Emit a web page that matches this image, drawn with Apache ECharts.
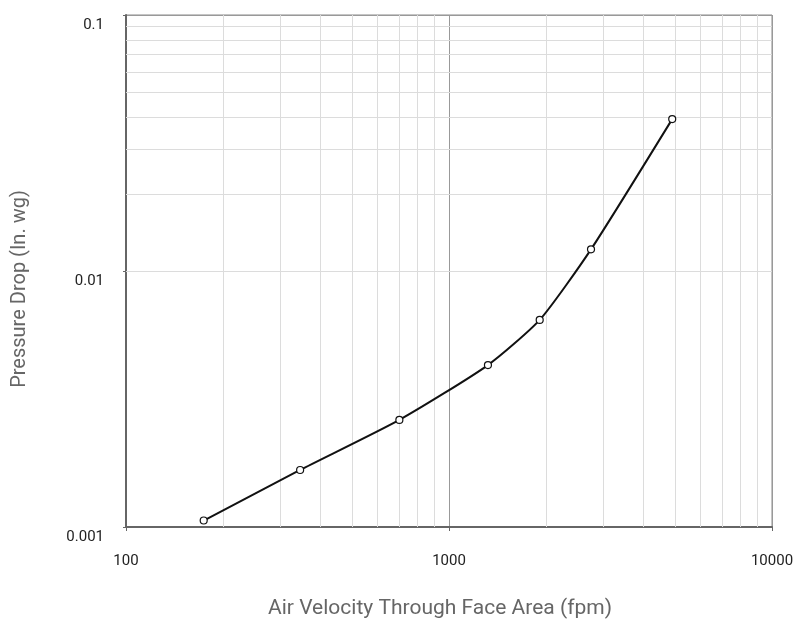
<!DOCTYPE html>
<html>
<head>
<meta charset="utf-8">
<script src="https://cdn.jsdelivr.net/npm/echarts@6/dist/echarts.min.js"></script>
<style>
  html, body { margin: 0; padding: 0; background: #fff; }
  #chart { width: 803px; height: 620px; }
</style>
</head>
<body>
<div id="chart"></div>
<script>
  // readings
  var velocity = [174, 346, 702, 1320, 1909, 2752, 4910]
  var pressure = [0.00106, 0.00167, 0.00262, 0.00429, 0.00644, 0.01215, 0.0392]

  // minor grid positions inside each decade
  var minorX = [200, 300, 400, 500, 600, 700, 800, 900, 2000, 3000, 4000, 5000, 6000, 7000, 8000, 9000]
  var minorY = [0.002, 0.003, 0.004, 0.005, 0.006, 0.007, 0.008, 0.009, 0.02, 0.03, 0.04, 0.05, 0.06, 0.07, 0.08, 0.09]

  var points = velocity.map(function (v, i) { return [v, pressure[i]] })

  var minorLines = minorX.map(function (v) { return { xAxis: v } })
    .concat(minorY.map(function (v) { return { yAxis: v } }))

  var chart = echarts.init(document.getElementById('chart'))

  chart.setOption({
    animation: false,
    textStyle: { fontFamily: 'Roboto' },
    grid: {
      left: 126,
      right: 31,
      top: 15,
      bottom: 93,
      outerBoundsMode: 'none',
      show: true,
      borderColor: '#8a8a8a',
      borderWidth: 1
    },
    xAxis: {
      type: 'log',
      logBase: 10,
      min: 100,
      max: 10000,
      name: 'Air Velocity Through Face Area (fpm)',
      nameLocation: 'middle',
      nameGap: 71,
      nameTextStyle: { color: '#666', fontSize: 21, padding: [0, 18, 0, 0] },
      axisLine: { show: true, lineStyle: { color: '#666', width: 2 } },
      axisTick: { show: true, length: 4, lineStyle: { color: '#666' } },
      axisLabel: {
        color: '#222',
        fontSize: 15,
        margin: 27,
        formatter: function (v) { return String(v) }
      },
      splitLine: { show: true, lineStyle: { color: '#999', width: 1 } }
    },
    yAxis: {
      type: 'log',
      logBase: 10,
      min: 0.001,
      max: 0.1,
      name: 'Pressure Drop (In. wg)',
      nameLocation: 'middle',
      nameGap: 96,
      nameTextStyle: { color: '#666', fontSize: 20, padding: [0, 36, 0, 0] },
      axisLine: { show: true, lineStyle: { color: '#666', width: 2 } },
      axisTick: { show: true, length: 3, lineStyle: { color: '#666' } },
      axisLabel: {
        color: '#222',
        fontSize: 15,
        margin: 22,
        verticalAlign: 'top',
        lineHeight: 20,
        formatter: function (v) { return String(v) }
      },
      splitLine: { show: true, lineStyle: { color: '#999', width: 1 } }
    },
    series: [
      {
        type: 'line',
        data: points,
        smooth: 0.2,
        symbol: 'circle',
        symbolSize: 7,
        showSymbol: true,
        itemStyle: { color: '#fff', borderColor: '#111', borderWidth: 1.2 },
        lineStyle: { color: '#111', width: 2 },
        z: 5,
        markLine: {
          silent: true,
          symbol: 'none',
          label: { show: false },
          lineStyle: { color: '#dcdcdc', width: 1, type: 'solid' },
          data: minorLines,
          z: 1
        }
      }
    ]
  })
</script>
</body>
</html>
